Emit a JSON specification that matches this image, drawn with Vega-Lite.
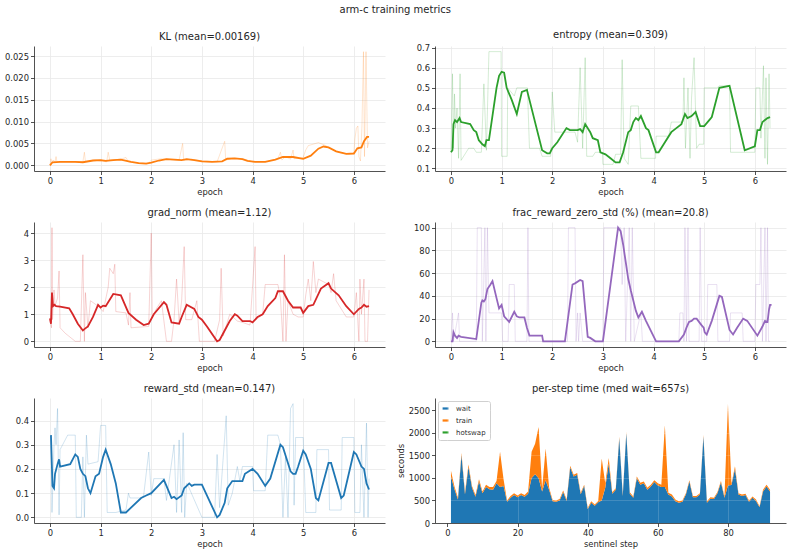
{
  "$schema": "https://vega.github.io/schema/vega-lite/v6.json",
  "padding": {"left": 4, "right": 4, "top": 4, "bottom": 4},
  "title": {"text": "arm-c training metrics", "fontSize": 10, "fontWeight": "normal", "anchor": "middle", "offset": 15},
  "datasets": {
    "kl_raw": [
      {"e":0.0,"v":0.0},{"e":0.02,"v":0.0015},{"e":0.04,"v":0.0005},{"e":0.06,"v":0.0012},{"e":0.1,"v":0.0008},{"e":0.12,"v":0.002},{"e":0.14,"v":0.0007},{"e":0.3,"v":0.0008},{"e":0.5,"v":0.0007},{"e":0.65,"v":0.0008},{"e":0.68,"v":0.003},{"e":0.7,"v":0.0009},{"e":0.9,"v":0.0012},{"e":1.0,"v":0.001},{"e":1.12,"v":0.0008},{"e":1.15,"v":0.003},{"e":1.18,"v":0.0012},{"e":1.4,"v":0.0014},{"e":1.5,"v":0.0018},{"e":1.55,"v":0.0008},{"e":1.8,"v":0.0005},{"e":1.95,"v":0.0005},{"e":2.0,"v":0.0012},{"e":2.2,"v":0.0015},{"e":2.4,"v":0.0013},{"e":2.55,"v":0.0012},{"e":2.62,"v":0.005},{"e":2.64,"v":0.0011},{"e":2.8,"v":0.0014},{"e":3.0,"v":0.001},{"e":3.3,"v":0.0008},{"e":3.45,"v":0.0055},{"e":3.47,"v":0.0012},{"e":3.6,"v":0.0016},{"e":3.8,"v":0.0015},{"e":4.0,"v":0.0008},{"e":4.3,"v":0.0009},{"e":4.5,"v":0.0015},{"e":4.55,"v":0.003},{"e":4.58,"v":0.0012},{"e":4.65,"v":0.002},{"e":4.75,"v":0.0014},{"e":4.8,"v":0.0035},{"e":4.82,"v":0.0015},{"e":5.0,"v":0.0018},{"e":5.05,"v":0.0035},{"e":5.1,"v":0.0045},{"e":5.3,"v":0.0052},{"e":5.45,"v":0.0045},{"e":5.5,"v":0.004},{"e":5.7,"v":0.003},{"e":5.9,"v":0.0025},{"e":6.0,"v":0.0028},{"e":6.02,"v":0.006},{"e":6.05,"v":0.0085},{"e":6.08,"v":0.009},{"e":6.1,"v":0.002},{"e":6.13,"v":0.001},{"e":6.16,"v":0.009},{"e":6.19,"v":0.026},{"e":6.21,"v":0.002},{"e":6.24,"v":0.026},{"e":6.27,"v":0.004},{"e":6.3,"v":0.0055}
    ],
    "kl_s": [
      {"e":0.0,"v":0.0},{"e":0.05,"v":0.0007},{"e":0.2,"v":0.0008},{"e":0.5,"v":0.0008},{"e":0.65,"v":0.0007},{"e":0.85,"v":0.0011},{"e":1.0,"v":0.0012},{"e":1.1,"v":0.001},{"e":1.25,"v":0.0012},{"e":1.4,"v":0.0013},{"e":1.6,"v":0.0008},{"e":1.75,"v":0.0005},{"e":1.9,"v":0.0004},{"e":2.0,"v":0.0006},{"e":2.15,"v":0.0011},{"e":2.3,"v":0.0014},{"e":2.45,"v":0.0013},{"e":2.6,"v":0.0012},{"e":2.7,"v":0.0014},{"e":2.85,"v":0.0012},{"e":3.0,"v":0.0009},{"e":3.2,"v":0.0008},{"e":3.4,"v":0.0009},{"e":3.5,"v":0.0015},{"e":3.65,"v":0.0016},{"e":3.8,"v":0.0014},{"e":3.9,"v":0.001},{"e":4.05,"v":0.0008},{"e":4.25,"v":0.0008},{"e":4.45,"v":0.0013},{"e":4.6,"v":0.0019},{"e":4.8,"v":0.0019},{"e":5.0,"v":0.0015},{"e":5.15,"v":0.0022},{"e":5.3,"v":0.0038},{"e":5.4,"v":0.0043},{"e":5.5,"v":0.0041},{"e":5.65,"v":0.0032},{"e":5.85,"v":0.0026},{"e":6.0,"v":0.0027},{"e":6.07,"v":0.0039},{"e":6.15,"v":0.0041},{"e":6.2,"v":0.0055},{"e":6.26,"v":0.0065},{"e":6.3,"v":0.0065}
    ],
    "ent_raw": [
      {"e":0.0,"v":0.18},{"e":0.03,"v":0.57},{"e":0.05,"v":0.2},{"e":0.07,"v":0.47},{"e":0.09,"v":0.3},{"e":0.12,"v":0.4},{"e":0.15,"v":0.15},{"e":0.18,"v":0.57},{"e":0.2,"v":0.14},{"e":0.35,"v":0.2},{"e":0.45,"v":0.2},{"e":0.5,"v":0.18},{"e":0.6,"v":0.18},{"e":0.65,"v":0.52},{"e":0.7,"v":0.19},{"e":0.75,"v":0.68},{"e":0.99,"v":0.68},{"e":1.0,"v":0.16},{"e":1.11,"v":0.16},{"e":1.12,"v":0.5},{"e":1.25,"v":0.46},{"e":1.3,"v":0.5},{"e":1.51,"v":0.5},{"e":1.55,"v":0.2},{"e":1.75,"v":0.2},{"e":1.8,"v":0.16},{"e":1.97,"v":0.16},{"e":2.0,"v":0.48},{"e":2.05,"v":0.28},{"e":2.3,"v":0.28},{"e":2.45,"v":0.28},{"e":2.5,"v":0.23},{"e":2.55,"v":0.6},{"e":2.6,"v":0.2},{"e":2.65,"v":0.65},{"e":2.68,"v":0.16},{"e":2.8,"v":0.16},{"e":2.85,"v":0.18},{"e":2.99,"v":0.18},{"e":3.0,"v":0.12},{"e":3.2,"v":0.12},{"e":3.25,"v":0.17},{"e":3.35,"v":0.17},{"e":3.38,"v":0.64},{"e":3.42,"v":0.15},{"e":3.5,"v":0.12},{"e":3.55,"v":0.41},{"e":3.7,"v":0.41},{"e":3.75,"v":0.15},{"e":4.04,"v":0.15},{"e":4.05,"v":0.26},{"e":4.3,"v":0.26},{"e":4.35,"v":0.33},{"e":4.58,"v":0.33},{"e":4.6,"v":0.55},{"e":4.63,"v":0.2},{"e":4.68,"v":0.5},{"e":4.72,"v":0.15},{"e":4.75,"v":0.45},{"e":4.8,"v":0.65},{"e":4.85,"v":0.2},{"e":4.9,"v":0.22},{"e":4.99,"v":0.22},{"e":5.0,"v":0.5},{"e":5.25,"v":0.5},{"e":5.3,"v":0.51},{"e":5.5,"v":0.51},{"e":5.52,"v":0.18},{"e":5.8,"v":0.18},{"e":6.0,"v":0.18},{"e":6.02,"v":0.5},{"e":6.1,"v":0.5},{"e":6.12,"v":0.25},{"e":6.17,"v":0.61},{"e":6.2,"v":0.15},{"e":6.22,"v":0.55},{"e":6.25,"v":0.12},{"e":6.28,"v":0.57},{"e":6.3,"v":0.3}
    ],
    "ent_s": [
      {"e":0.0,"v":0.18},{"e":0.03,"v":0.19},{"e":0.05,"v":0.32},{"e":0.08,"v":0.34},{"e":0.12,"v":0.33},{"e":0.17,"v":0.35},{"e":0.2,"v":0.33},{"e":0.38,"v":0.32},{"e":0.45,"v":0.29},{"e":0.5,"v":0.28},{"e":0.55,"v":0.24},{"e":0.62,"v":0.22},{"e":0.67,"v":0.21},{"e":0.7,"v":0.24},{"e":0.75,"v":0.24},{"e":0.9,"v":0.5},{"e":0.95,"v":0.56},{"e":1.0,"v":0.58},{"e":1.05,"v":0.575},{"e":1.1,"v":0.5},{"e":1.2,"v":0.44},{"e":1.3,"v":0.37},{"e":1.4,"v":0.48},{"e":1.5,"v":0.49},{"e":1.8,"v":0.19},{"e":1.9,"v":0.175},{"e":1.95,"v":0.175},{"e":2.0,"v":0.2},{"e":2.1,"v":0.23},{"e":2.28,"v":0.3},{"e":2.35,"v":0.29},{"e":2.5,"v":0.29},{"e":2.55,"v":0.295},{"e":2.6,"v":0.28},{"e":2.65,"v":0.32},{"e":2.75,"v":0.28},{"e":2.8,"v":0.25},{"e":2.9,"v":0.24},{"e":2.95,"v":0.18},{"e":3.05,"v":0.17},{"e":3.15,"v":0.15},{"e":3.25,"v":0.13},{"e":3.33,"v":0.13},{"e":3.4,"v":0.18},{"e":3.5,"v":0.28},{"e":3.55,"v":0.29},{"e":3.6,"v":0.33},{"e":3.65,"v":0.35},{"e":3.7,"v":0.34},{"e":3.75,"v":0.36},{"e":3.85,"v":0.3},{"e":3.9,"v":0.29},{"e":4.05,"v":0.18},{"e":4.1,"v":0.18},{"e":4.2,"v":0.22},{"e":4.35,"v":0.28},{"e":4.45,"v":0.3},{"e":4.55,"v":0.32},{"e":4.62,"v":0.37},{"e":4.67,"v":0.35},{"e":4.75,"v":0.36},{"e":4.83,"v":0.38},{"e":4.92,"v":0.31},{"e":5.0,"v":0.31},{"e":5.1,"v":0.34},{"e":5.15,"v":0.355},{"e":5.3,"v":0.5},{"e":5.5,"v":0.51},{"e":5.8,"v":0.19},{"e":6.0,"v":0.21},{"e":6.05,"v":0.29},{"e":6.1,"v":0.29},{"e":6.15,"v":0.33},{"e":6.2,"v":0.34},{"e":6.25,"v":0.35},{"e":6.3,"v":0.355}
    ],
    "gn_raw": [
      {"e":0.0,"v":0.8},{"e":0.03,"v":0.5},{"e":0.04,"v":4.2},{"e":0.05,"v":0.8},{"e":0.08,"v":1.9},{"e":0.1,"v":1.3},{"e":0.15,"v":1.6},{"e":0.18,"v":2.6},{"e":0.2,"v":0.5},{"e":0.3,"v":0.3},{"e":0.5,"v":0.0},{"e":0.6,"v":0.0},{"e":0.65,"v":3.2},{"e":0.68,"v":0.0},{"e":0.7,"v":1.8},{"e":0.75,"v":0.5},{"e":0.8,"v":1.5},{"e":0.95,"v":1.3},{"e":1.0,"v":1.2},{"e":1.05,"v":1.1},{"e":1.15,"v":2.0},{"e":1.18,"v":2.7},{"e":1.25,"v":2.5},{"e":1.28,"v":2.85},{"e":1.3,"v":1.1},{"e":1.5,"v":1.05},{"e":1.55,"v":0.6},{"e":1.58,"v":1.8},{"e":1.6,"v":0.5},{"e":1.95,"v":0.55},{"e":2.0,"v":4.0},{"e":2.02,"v":0.9},{"e":2.1,"v":1.2},{"e":2.2,"v":1.5},{"e":2.3,"v":0.0},{"e":2.4,"v":0.0},{"e":2.45,"v":0.8},{"e":2.5,"v":2.3},{"e":2.55,"v":0.7},{"e":2.6,"v":1.5},{"e":2.65,"v":3.5},{"e":2.68,"v":0.8},{"e":2.8,"v":0.8},{"e":2.9,"v":1.5},{"e":2.95,"v":0.0},{"e":3.25,"v":0.0},{"e":3.35,"v":0.8},{"e":3.38,"v":2.7},{"e":3.42,"v":0.2},{"e":3.55,"v":1.0},{"e":3.7,"v":0.75},{"e":3.8,"v":0.7},{"e":3.95,"v":0.6},{"e":4.05,"v":3.5},{"e":4.07,"v":0.8},{"e":4.2,"v":1.0},{"e":4.25,"v":2.1},{"e":4.5,"v":2.1},{"e":4.55,"v":1.6},{"e":4.6,"v":0.0},{"e":4.63,"v":3.2},{"e":4.66,"v":0.0},{"e":4.7,"v":1.5},{"e":4.8,"v":1.0},{"e":4.9,"v":0.9},{"e":5.0,"v":0.9},{"e":5.05,"v":1.7},{"e":5.1,"v":2.3},{"e":5.15,"v":1.5},{"e":5.2,"v":2.95},{"e":5.25,"v":1.8},{"e":5.3,"v":2.3},{"e":5.4,"v":2.2},{"e":5.5,"v":2.1},{"e":5.55,"v":1.8},{"e":5.6,"v":2.5},{"e":5.65,"v":1.5},{"e":5.75,"v":1.2},{"e":5.85,"v":0.9},{"e":6.0,"v":0.9},{"e":6.05,"v":1.8},{"e":6.1,"v":0.0},{"e":6.12,"v":2.3},{"e":6.15,"v":1.0},{"e":6.2,"v":2.3},{"e":6.22,"v":0.0},{"e":6.27,"v":0.0},{"e":6.3,"v":1.9}
    ],
    "gn_s": [
      {"e":0.0,"v":0.85},{"e":0.02,"v":0.65},{"e":0.04,"v":1.8},{"e":0.06,"v":1.3},{"e":0.09,"v":1.35},{"e":0.12,"v":1.3},{"e":0.2,"v":1.28},{"e":0.38,"v":1.22},{"e":0.45,"v":1.0},{"e":0.55,"v":0.65},{"e":0.65,"v":0.4},{"e":0.68,"v":0.45},{"e":0.75,"v":0.55},{"e":0.85,"v":0.9},{"e":0.95,"v":1.35},{"e":1.0,"v":1.25},{"e":1.05,"v":1.32},{"e":1.1,"v":1.3},{"e":1.25,"v":1.75},{"e":1.4,"v":1.7},{"e":1.55,"v":1.05},{"e":1.7,"v":0.8},{"e":1.85,"v":0.6},{"e":1.95,"v":0.65},{"e":2.05,"v":1.0},{"e":2.25,"v":1.45},{"e":2.3,"v":1.35},{"e":2.4,"v":0.7},{"e":2.55,"v":0.65},{"e":2.6,"v":0.9},{"e":2.7,"v":1.35},{"e":2.85,"v":1.2},{"e":2.93,"v":0.9},{"e":3.0,"v":0.8},{"e":3.1,"v":0.55},{"e":3.3,"v":0.0},{"e":3.35,"v":0.05},{"e":3.45,"v":0.4},{"e":3.55,"v":0.75},{"e":3.65,"v":1.0},{"e":3.7,"v":0.95},{"e":3.8,"v":0.75},{"e":3.95,"v":0.75},{"e":4.0,"v":0.7},{"e":4.1,"v":0.9},{"e":4.2,"v":1.0},{"e":4.3,"v":1.3},{"e":4.45,"v":1.6},{"e":4.5,"v":1.85},{"e":4.6,"v":1.85},{"e":4.7,"v":1.5},{"e":4.8,"v":1.25},{"e":4.95,"v":1.25},{"e":5.0,"v":1.05},{"e":5.1,"v":1.3},{"e":5.2,"v":1.35},{"e":5.35,"v":1.95},{"e":5.5,"v":2.15},{"e":5.55,"v":1.95},{"e":5.7,"v":1.7},{"e":5.85,"v":1.3},{"e":6.0,"v":1.0},{"e":6.1,"v":1.2},{"e":6.15,"v":1.25},{"e":6.2,"v":1.35},{"e":6.25,"v":1.28},{"e":6.3,"v":1.3}
    ],
    "fz_raw": [
      {"e":0.0,"v":0},{"e":0.03,"v":25},{"e":0.05,"v":0},{"e":0.15,"v":25},{"e":0.17,"v":0},{"e":0.5,"v":0},{"e":0.52,"v":100},{"e":0.6,"v":100},{"e":0.62,"v":0},{"e":0.67,"v":100},{"e":0.69,"v":0},{"e":0.72,"v":100},{"e":0.75,"v":25},{"e":1.0,"v":25},{"e":1.02,"v":0},{"e":1.13,"v":0},{"e":1.15,"v":50},{"e":1.25,"v":50},{"e":1.27,"v":0},{"e":1.5,"v":0},{"e":1.52,"v":100},{"e":1.54,"v":0},{"e":1.8,"v":0},{"e":2.3,"v":0},{"e":2.32,"v":100},{"e":2.45,"v":100},{"e":2.47,"v":0},{"e":2.5,"v":25},{"e":2.52,"v":0},{"e":2.55,"v":25},{"e":2.6,"v":0},{"e":3.0,"v":0},{"e":3.02,"v":100},{"e":3.35,"v":100},{"e":3.38,"v":50},{"e":3.42,"v":100},{"e":3.45,"v":0},{"e":3.52,"v":100},{"e":3.55,"v":0},{"e":3.58,"v":100},{"e":3.62,"v":0},{"e":3.75,"v":25},{"e":3.78,"v":0},{"e":4.5,"v":0},{"e":4.52,"v":25},{"e":4.58,"v":25},{"e":4.6,"v":0},{"e":4.62,"v":100},{"e":4.65,"v":0},{"e":4.68,"v":100},{"e":4.7,"v":0},{"e":4.9,"v":0},{"e":4.92,"v":100},{"e":4.95,"v":0},{"e":5.05,"v":0},{"e":5.07,"v":50},{"e":5.25,"v":50},{"e":5.27,"v":0},{"e":5.5,"v":0},{"e":5.52,"v":25},{"e":5.75,"v":25},{"e":5.77,"v":0},{"e":6.0,"v":0},{"e":6.02,"v":50},{"e":6.1,"v":50},{"e":6.12,"v":100},{"e":6.15,"v":0},{"e":6.2,"v":100},{"e":6.22,"v":0},{"e":6.25,"v":100},{"e":6.27,"v":0},{"e":6.3,"v":0}
    ],
    "fz_s": [
      {"e":0.0,"v":0},{"e":0.03,"v":0},{"e":0.05,"v":8},{"e":0.08,"v":5},{"e":0.12,"v":3},{"e":0.15,"v":5},{"e":0.2,"v":4},{"e":0.5,"v":2},{"e":0.6,"v":34},{"e":0.62,"v":36},{"e":0.65,"v":35},{"e":0.68,"v":37},{"e":0.72,"v":46},{"e":0.78,"v":50},{"e":0.82,"v":53},{"e":0.9,"v":38},{"e":0.95,"v":29},{"e":1.0,"v":32},{"e":1.05,"v":22},{"e":1.15,"v":17},{"e":1.25,"v":26},{"e":1.3,"v":22},{"e":1.35,"v":21},{"e":1.45,"v":21},{"e":1.5,"v":12},{"e":1.55,"v":5},{"e":1.8,"v":5},{"e":1.82,"v":0},{"e":2.25,"v":0},{"e":2.4,"v":50},{"e":2.45,"v":51},{"e":2.55,"v":54},{"e":2.6,"v":53},{"e":2.7,"v":4},{"e":2.75,"v":3},{"e":2.85,"v":0},{"e":3.0,"v":0},{"e":3.3,"v":100},{"e":3.35,"v":97},{"e":3.4,"v":85},{"e":3.5,"v":55},{"e":3.55,"v":45},{"e":3.65,"v":27},{"e":3.7,"v":21},{"e":3.77,"v":26},{"e":3.85,"v":18},{"e":4.05,"v":0},{"e":4.5,"v":0},{"e":4.6,"v":6},{"e":4.65,"v":12},{"e":4.7,"v":17},{"e":4.75,"v":18},{"e":4.8,"v":20},{"e":4.85,"v":20},{"e":4.95,"v":14},{"e":4.99,"v":12},{"e":5.01,"v":8},{"e":5.05,"v":6},{"e":5.1,"v":12},{"e":5.15,"v":18},{"e":5.3,"v":40},{"e":5.35,"v":39},{"e":5.5,"v":10},{"e":5.57,"v":6},{"e":5.65,"v":12},{"e":5.77,"v":20},{"e":5.85,"v":18},{"e":6.05,"v":5},{"e":6.15,"v":13},{"e":6.2,"v":18},{"e":6.25,"v":17},{"e":6.28,"v":28},{"e":6.3,"v":32},{"e":6.33,"v":32}
    ],
    "rs_raw": [
      {"e":0.02,"v":0.34},{"e":0.04,"v":0.02},{"e":0.06,"v":0.15},{"e":0.08,"v":0.3},{"e":0.1,"v":0.37},{"e":0.12,"v":0.3},{"e":0.15,"v":0.45},{"e":0.18,"v":0.01},{"e":0.2,"v":0.28},{"e":0.35,"v":0.34},{"e":0.5,"v":0.34},{"e":0.52,"v":0.0},{"e":0.62,"v":0.0},{"e":0.65,"v":0.25},{"e":0.68,"v":0.0},{"e":0.72,"v":0.34},{"e":0.75,"v":0.22},{"e":0.95,"v":0.23},{"e":1.0,"v":0.38},{"e":1.1,"v":0.38},{"e":1.13,"v":0.02},{"e":1.3,"v":0.02},{"e":1.5,"v":0.03},{"e":1.55,"v":0.1},{"e":1.58,"v":0.08},{"e":1.8,"v":0.08},{"e":1.85,"v":0.09},{"e":1.95,"v":0.27},{"e":2.0,"v":0.09},{"e":2.05,"v":0.16},{"e":2.25,"v":0.16},{"e":2.3,"v":0.07},{"e":2.45,"v":0.3},{"e":2.5,"v":0.02},{"e":2.55,"v":0.32},{"e":2.6,"v":0.02},{"e":2.63,"v":0.35},{"e":2.66,"v":0.0},{"e":2.7,"v":0.14},{"e":2.75,"v":0.12},{"e":3.0,"v":0.0},{"e":3.25,"v":0.0},{"e":3.3,"v":0.26},{"e":3.35,"v":0.04},{"e":3.48,"v":0.42},{"e":3.52,"v":0.05},{"e":3.6,"v":0.1},{"e":3.7,"v":0.21},{"e":3.75,"v":0.15},{"e":3.8,"v":0.21},{"e":4.0,"v":0.21},{"e":4.02,"v":0.11},{"e":4.25,"v":0.11},{"e":4.3,"v":0.34},{"e":4.5,"v":0.34},{"e":4.55,"v":0.3},{"e":4.6,"v":0.0},{"e":4.65,"v":0.25},{"e":4.7,"v":0.0},{"e":4.75,"v":0.45},{"e":4.8,"v":0.47},{"e":4.82,"v":0.05},{"e":4.85,"v":0.33},{"e":5.0,"v":0.33},{"e":5.05,"v":0.02},{"e":5.25,"v":0.02},{"e":5.27,"v":0.28},{"e":5.5,"v":0.28},{"e":5.52,"v":0.03},{"e":5.75,"v":0.03},{"e":5.77,"v":0.33},{"e":6.0,"v":0.33},{"e":6.02,"v":0.02},{"e":6.12,"v":0.02},{"e":6.15,"v":0.3},{"e":6.2,"v":0.0},{"e":6.25,"v":0.39},{"e":6.28,"v":0.0},{"e":6.3,"v":0.16}
    ],
    "rs_s": [
      {"e":0.02,"v":0.34},{"e":0.05,"v":0.13},{"e":0.08,"v":0.12},{"e":0.1,"v":0.18},{"e":0.15,"v":0.22},{"e":0.18,"v":0.24},{"e":0.2,"v":0.21},{"e":0.4,"v":0.22},{"e":0.5,"v":0.26},{"e":0.55,"v":0.25},{"e":0.6,"v":0.2},{"e":0.65,"v":0.18},{"e":0.7,"v":0.17},{"e":0.75,"v":0.12},{"e":0.8,"v":0.1},{"e":0.9,"v":0.17},{"e":0.97,"v":0.18},{"e":1.05,"v":0.25},{"e":1.1,"v":0.28},{"e":1.2,"v":0.22},{"e":1.3,"v":0.14},{"e":1.4,"v":0.02},{"e":1.5,"v":0.02},{"e":1.8,"v":0.08},{"e":1.9,"v":0.09},{"e":2.0,"v":0.1},{"e":2.25,"v":0.155},{"e":2.3,"v":0.13},{"e":2.4,"v":0.08},{"e":2.45,"v":0.085},{"e":2.5,"v":0.075},{"e":2.6,"v":0.09},{"e":2.65,"v":0.12},{"e":2.75,"v":0.14},{"e":2.8,"v":0.13},{"e":2.85,"v":0.135},{"e":3.0,"v":0.135},{"e":3.3,"v":0.0},{"e":3.35,"v":0.01},{"e":3.45,"v":0.06},{"e":3.5,"v":0.12},{"e":3.6,"v":0.15},{"e":3.7,"v":0.15},{"e":3.8,"v":0.15},{"e":3.85,"v":0.18},{"e":4.0,"v":0.2},{"e":4.1,"v":0.18},{"e":4.25,"v":0.13},{"e":4.35,"v":0.16},{"e":4.55,"v":0.3},{"e":4.6,"v":0.29},{"e":4.75,"v":0.19},{"e":4.8,"v":0.18},{"e":4.85,"v":0.18},{"e":4.9,"v":0.21},{"e":5.0,"v":0.275},{"e":5.05,"v":0.26},{"e":5.15,"v":0.2},{"e":5.25,"v":0.08},{"e":5.3,"v":0.07},{"e":5.5,"v":0.225},{"e":5.55,"v":0.225},{"e":5.75,"v":0.08},{"e":5.8,"v":0.09},{"e":6.0,"v":0.27},{"e":6.05,"v":0.26},{"e":6.15,"v":0.21},{"e":6.2,"v":0.2},{"e":6.25,"v":0.14},{"e":6.3,"v":0.115}
    ],
    "steps": [
      {"step":1,"wait":1030,"train":130,"hotswap":0},{"step":2,"wait":750,"train":60,"hotswap":0},{"step":3,"wait":520,"train":40,"hotswap":0},{"step":4,"wait":1500,"train":50,"hotswap":0},{"step":5,"wait":640,"train":40,"hotswap":0},{"step":6,"wait":1240,"train":60,"hotswap":0},{"step":7,"wait":780,"train":40,"hotswap":0},{"step":8,"wait":580,"train":40,"hotswap":0},{"step":9,"wait":920,"train":50,"hotswap":0},{"step":10,"wait":660,"train":40,"hotswap":0},
      {"step":11,"wait":800,"train":50,"hotswap":0},{"step":12,"wait":750,"train":50,"hotswap":0},{"step":13,"wait":740,"train":60,"hotswap":0},{"step":14,"wait":880,"train":50,"hotswap":0},{"step":15,"wait":800,"train":780,"hotswap":0},{"step":16,"wait":820,"train":150,"hotswap":0},{"step":17,"wait":470,"train":30,"hotswap":0},{"step":18,"wait":560,"train":40,"hotswap":0},{"step":19,"wait":620,"train":40,"hotswap":0},{"step":20,"wait":570,"train":40,"hotswap":0},
      {"step":21,"wait":620,"train":40,"hotswap":0},{"step":22,"wait":580,"train":40,"hotswap":0},{"step":23,"wait":650,"train":50,"hotswap":0},{"step":24,"wait":1000,"train":580,"hotswap":0},{"step":25,"wait":1080,"train":680,"hotswap":0},{"step":26,"wait":990,"train":1140,"hotswap":0},{"step":27,"wait":700,"train":60,"hotswap":0},{"step":28,"wait":950,"train":700,"hotswap":0},{"step":29,"wait":730,"train":50,"hotswap":0},{"step":30,"wait":480,"train":30,"hotswap":0},
      {"step":31,"wait":470,"train":30,"hotswap":0},{"step":32,"wait":500,"train":30,"hotswap":0},{"step":33,"wait":690,"train":30,"hotswap":0},{"step":34,"wait":490,"train":30,"hotswap":0},{"step":35,"wait":1230,"train":40,"hotswap":0},{"step":36,"wait":1030,"train":40,"hotswap":0},{"step":37,"wait":1070,"train":40,"hotswap":0},{"step":38,"wait":640,"train":30,"hotswap":0},{"step":39,"wait":820,"train":30,"hotswap":0},{"step":40,"wait":310,"train":30,"hotswap":0},
      {"step":41,"wait":450,"train":30,"hotswap":0},{"step":42,"wait":380,"train":30,"hotswap":0},{"step":43,"wait":460,"train":30,"hotswap":0},{"step":44,"wait":500,"train":930,"hotswap":0},{"step":45,"wait":780,"train":100,"hotswap":0},{"step":46,"wait":1320,"train":120,"hotswap":0},{"step":47,"wait":650,"train":30,"hotswap":0},{"step":48,"wait":740,"train":30,"hotswap":0},{"step":49,"wait":1880,"train":30,"hotswap":0},{"step":50,"wait":600,"train":30,"hotswap":0},
      {"step":51,"wait":1990,"train":30,"hotswap":0},{"step":52,"wait":650,"train":30,"hotswap":0},{"step":53,"wait":560,"train":30,"hotswap":0},{"step":54,"wait":990,"train":40,"hotswap":0},{"step":55,"wait":850,"train":40,"hotswap":0},{"step":56,"wait":880,"train":40,"hotswap":0},{"step":57,"wait":740,"train":40,"hotswap":0},{"step":58,"wait":810,"train":40,"hotswap":0},{"step":59,"wait":910,"train":40,"hotswap":0},{"step":60,"wait":830,"train":50,"hotswap":0},
      {"step":61,"wait":800,"train":50,"hotswap":0},{"step":62,"wait":800,"train":1370,"hotswap":0},{"step":63,"wait":630,"train":40,"hotswap":0},{"step":64,"wait":590,"train":40,"hotswap":0},{"step":65,"wait":480,"train":40,"hotswap":0},{"step":66,"wait":450,"train":30,"hotswap":0},{"step":67,"wait":470,"train":30,"hotswap":0},{"step":68,"wait":630,"train":30,"hotswap":0},{"step":69,"wait":920,"train":30,"hotswap":0},{"step":70,"wait":570,"train":30,"hotswap":0},
      {"step":71,"wait":570,"train":30,"hotswap":0},{"step":72,"wait":630,"train":30,"hotswap":0},{"step":73,"wait":1920,"train":30,"hotswap":0},{"step":74,"wait":450,"train":30,"hotswap":0},{"step":75,"wait":540,"train":30,"hotswap":0},{"step":76,"wait":530,"train":30,"hotswap":0},{"step":77,"wait":660,"train":30,"hotswap":0},{"step":78,"wait":900,"train":30,"hotswap":0},{"step":79,"wait":560,"train":30,"hotswap":0},{"step":80,"wait":830,"train":1810,"hotswap":0},
      {"step":81,"wait":840,"train":30,"hotswap":0},{"step":82,"wait":1200,"train":60,"hotswap":0},{"step":83,"wait":630,"train":30,"hotswap":0},{"step":84,"wait":600,"train":30,"hotswap":0},{"step":85,"wait":620,"train":30,"hotswap":0},{"step":86,"wait":470,"train":30,"hotswap":0},{"step":87,"wait":560,"train":30,"hotswap":0},{"step":88,"wait":490,"train":30,"hotswap":0},{"step":89,"wait":350,"train":20,"hotswap":0},{"step":90,"wait":700,"train":40,"hotswap":0},
      {"step":91,"wait":810,"train":40,"hotswap":0},{"step":92,"wait":700,"train":40,"hotswap":0}
    ]
  },
  "columns": 2,
  "spacing": {"row": 11, "column": 11},
  "resolve": {"legend": {"color": "independent"}},
  "concat": [
    {
      "title": "KL (mean=0.00169)",
      "width": 351, "height": 125,
      "encoding": {
        "x": {"field": "e", "type": "quantitative", "title": "epoch", "scale": {"domain": [-0.315, 6.615], "nice": false, "zero": false}, "axis": {"values": [0,1,2,3,4,5,6]}},
        "y": {"field": "v", "type": "quantitative", "title": null, "scale": {"domain": [-0.0013, 0.0273], "nice": false, "zero": false}, "axis": {"values": [0,0.005,0.01,0.015,0.02,0.025], "format": ".3f"}}
      },
      "layer": [
        {"data": {"name": "kl_raw"}, "mark": {"type": "line", "color": "#ff7f0e", "strokeWidth": 1, "opacity": 0.2}},
        {"data": {"name": "kl_s"}, "mark": {"type": "line", "color": "#ff7f0e", "strokeWidth": 1.8}}
      ]
    },
    {
      "title": "entropy (mean=0.309)",
      "width": 351, "height": 125,
      "encoding": {
        "x": {"field": "e", "type": "quantitative", "title": "epoch", "scale": {"domain": [-0.315, 6.615], "nice": false, "zero": false}, "axis": {"values": [0,1,2,3,4,5,6]}},
        "y": {"field": "v", "type": "quantitative", "title": null, "scale": {"domain": [0.087, 0.708], "nice": false, "zero": false}, "axis": {"values": [0.1,0.2,0.3,0.4,0.5,0.6,0.7], "format": ".1f"}}
      },
      "layer": [
        {"data": {"name": "ent_raw"}, "mark": {"type": "line", "color": "#2ca02c", "strokeWidth": 1, "opacity": 0.2}},
        {"data": {"name": "ent_s"}, "mark": {"type": "line", "color": "#2ca02c", "strokeWidth": 1.8}}
      ]
    },
    {
      "title": "grad_norm (mean=1.12)",
      "width": 351, "height": 125,
      "encoding": {
        "x": {"field": "e", "type": "quantitative", "title": "epoch", "scale": {"domain": [-0.315, 6.615], "nice": false, "zero": false}, "axis": {"values": [0,1,2,3,4,5,6]}},
        "y": {"field": "v", "type": "quantitative", "title": null, "scale": {"domain": [-0.21, 4.41], "nice": false, "zero": false}, "axis": {"values": [0,1,2,3,4], "format": "d"}}
      },
      "layer": [
        {"data": {"name": "gn_raw"}, "mark": {"type": "line", "color": "#d62728", "strokeWidth": 1, "opacity": 0.2}},
        {"data": {"name": "gn_s"}, "mark": {"type": "line", "color": "#d62728", "strokeWidth": 1.8}},
        {"data": {"values": [{}]}, "mark": {"type": "rule", "color": "#999999", "strokeWidth": 1, "strokeDash": [1.5, 2]}, "encoding": {"x": null, "y": {"datum": 1}}}
      ]
    },
    {
      "title": "frac_reward_zero_std (%) (mean=20.8)",
      "width": 351, "height": 125,
      "encoding": {
        "x": {"field": "e", "type": "quantitative", "title": "epoch", "scale": {"domain": [-0.315, 6.615], "nice": false, "zero": false}, "axis": {"values": [0,1,2,3,4,5,6]}},
        "y": {"field": "v", "type": "quantitative", "title": null, "scale": {"domain": [-5, 105], "nice": false, "zero": false}, "axis": {"values": [0,20,40,60,80,100], "format": "d"}}
      },
      "layer": [
        {"data": {"name": "fz_raw"}, "mark": {"type": "line", "color": "#9467bd", "strokeWidth": 1, "opacity": 0.2}},
        {"data": {"name": "fz_s"}, "mark": {"type": "line", "color": "#9467bd", "strokeWidth": 1.8}}
      ]
    },
    {
      "title": "reward_std (mean=0.147)",
      "width": 351, "height": 125,
      "encoding": {
        "x": {"field": "e", "type": "quantitative", "title": "epoch", "scale": {"domain": [-0.315, 6.615], "nice": false, "zero": false}, "axis": {"values": [0,1,2,3,4,5,6]}},
        "y": {"field": "v", "type": "quantitative", "title": null, "scale": {"domain": [-0.0235, 0.4935], "nice": false, "zero": false}, "axis": {"values": [0,0.1,0.2,0.3,0.4], "format": ".1f"}}
      },
      "layer": [
        {"data": {"name": "rs_raw"}, "mark": {"type": "line", "color": "#1f77b4", "strokeWidth": 1, "opacity": 0.2}},
        {"data": {"name": "rs_s"}, "mark": {"type": "line", "color": "#1f77b4", "strokeWidth": 1.8}}
      ]
    },
    {
      "title": "per-step time (med wait=657s)",
      "width": 351, "height": 125,
      "data": {"name": "steps"},
      "transform": [{"fold": ["wait", "train", "hotswap"], "as": ["part", "sec"]}],
      "mark": {"type": "area", "opacity": 1},
      "encoding": {
        "x": {"field": "step", "type": "quantitative", "title": "sentinel step", "scale": {"domain": [-3.55, 96.55], "nice": false, "zero": false}, "axis": {"values": [0,20,40,60,80], "zindex": 1, "gridColor": "#ffffff", "gridOpacity": 0.2}},
        "y": {"field": "sec", "type": "quantitative", "title": "seconds", "stack": "zero", "scale": {"domain": [0, 2772], "nice": false}, "axis": {"values": [0,500,1000,1500,2000,2500], "format": "d", "zindex": 1, "gridColor": "#ffffff", "gridOpacity": 0.2}},
        "color": {"field": "part", "type": "nominal", "title": null, "scale": {"domain": ["wait", "train", "hotswap"], "range": ["#1f77b4", "#ff7f0e", "#2ca02c"]}, "legend": {"orient": "top-left", "offset": 3, "fillColor": "#ffffff", "strokeColor": "#d0d0d0", "padding": 4, "cornerRadius": 2, "labelFontSize": 7, "symbolType": "M-1.3,-0.5H1.3V0.5H-1.3Z", "symbolSize": 20, "symbolStrokeWidth": 0, "symbolOpacity": 1, "rowPadding": 4, "labelOffset": 7}},
        "order": {"field": "part", "sort": "descending"}
      }
    }
  ],
  "config": {
    "font": "DejaVu Sans",
    "view": {"stroke": null},
    "axis": {
      "labelFontSize": 8.4, "titleFontSize": 8.4, "titleFontWeight": "normal",
      "labelColor": "#262626", "titleColor": "#262626", "domainColor": "#262626", "tickColor": "#262626",
      "tickSize": 3.5, "domainWidth": 0.8, "tickWidth": 0.8,
      "gridColor": "#e8e8e8", "gridWidth": 0.8,
      "labelPadding": 2, "titlePadding": 3, "labelFlush": false
    },
    "title": {"fontSize": 10, "fontWeight": "normal", "color": "#262626", "offset": 4},
    "legend": {"labelColor": "#262626"}
  }
}
